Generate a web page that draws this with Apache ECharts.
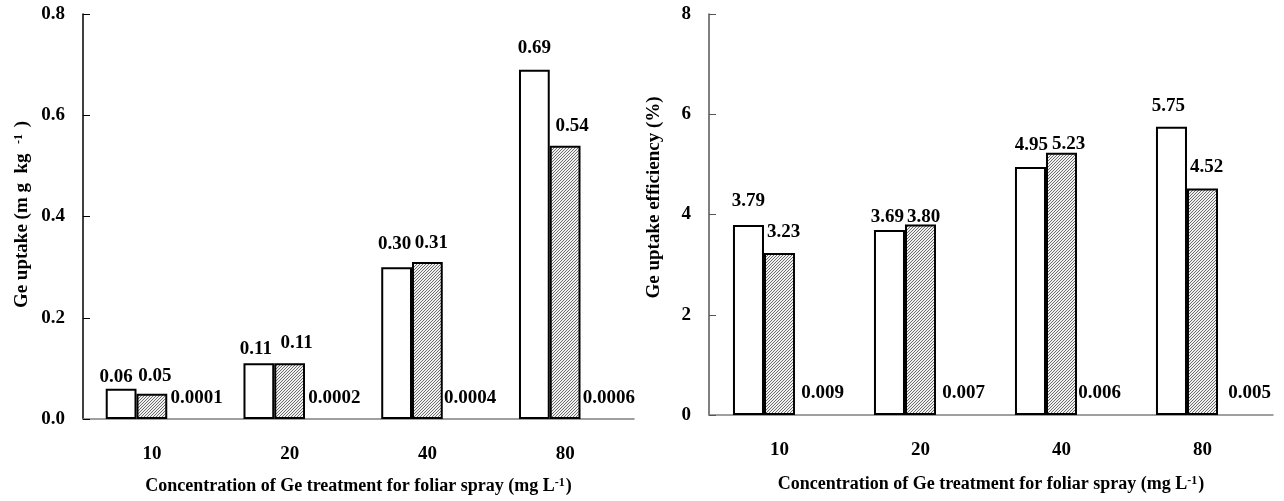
<!DOCTYPE html>
<html>
<head>
<meta charset="utf-8">
<script src="https://cdn.jsdelivr.net/npm/echarts@6/dist/echarts.min.js"></script>
<style>html,body{margin:0;padding:0;background:#fff}#c{width:1284px;height:501px}</style>
</head>
<body>
<div id="c"></div>
<script>
var categories = ['10', '20', '40', '80'];
// Left panel: Ge uptake (mg kg-1)
var uptakeA = [0.06, 0.11, 0.30, 0.69];
var uptakeB = [0.05, 0.11, 0.31, 0.54];
var uptakeC = [0.0001, 0.0002, 0.0004, 0.0006];
// Right panel: Ge uptake efficiency (%)
var effA = [3.79, 3.69, 4.95, 5.75];
var effB = [3.23, 3.80, 5.23, 4.52];
var effC = [0.009, 0.007, 0.006, 0.005];

// label placement tweaks (pixels) – style only
var lblLeftA = {dx: [-5, -3, -2, 0], dist: [2, 5, 14, 12]};
var lblLeftB = {dx: [3, 7, 4, 7], dist: [8, 11, 9, 10]};
var lblLeftC = {dx: [14, 14, 12, 13], dist: [11, 11, 11, 11]};
var lblRightA = {dx: [0, -2, 1, -3], dist: [14, 3, 12, 11]};
var lblRightB = {dx: [4, 3, 7, 4], dist: [12, -2, -1, 12]};
var lblRightC = {dx: [12, 12, 7, 16], dist: [12, 12, 12, 12]};

var FONT = '"Liberation Serif", "Times New Roman", serif';

function hatch() {
  var c = document.createElement('canvas');
  c.width = 3; c.height = 3;
  var g = c.getContext('2d');
  g.fillStyle = '#f0f0f0';
  g.fillRect(0, 0, 3, 3);
  g.fillStyle = '#6e6e6e';
  g.fillRect(2, 0, 1, 1);
  g.fillRect(1, 1, 1, 1);
  g.fillRect(0, 2, 1, 1);
  return c;
}
var hatchImg = hatch();

var chart = echarts.init(document.getElementById('c'), null, {renderer: 'canvas'});

function xAxis(gi, gap) {
  return {
    type: 'category', gridIndex: gi, data: categories,
    axisLine: {lineStyle: {color: '#808080', width: 1.5}},
    axisTick: {inside: true, length: 7, lineStyle: {color: '#333'}},
    axisLabel: {fontFamily: FONT, fontWeight: 'bold', fontSize: 19, color: '#000', margin: 26},
    name: '{a|Concentration of Ge treatment for foliar spray (mg L}{s|-1}{a|)}',
    nameLocation: 'middle', nameGap: gap,
    nameTextStyle: {
      rich: {
        a: {fontFamily: FONT, fontWeight: 'bold', fontSize: 18, color: '#000'},
        s: {fontFamily: FONT, fontWeight: 'bold', fontSize: 12, color: '#000', verticalAlign: 'top', padding: [0, 1, 6, 0]}
      }
    }
  };
}
function yAxis(gi, max, interval, fmt, nameStr, gap, lineColor, pad) {
  return {
    type: 'value', gridIndex: gi, min: 0, max: max, interval: interval,
    splitLine: {show: false},
    axisLine: {show: true, lineStyle: {color: lineColor, width: 1.5}},
    axisTick: {show: true, inside: true, length: 7, lineStyle: {color: lineColor}},
    axisLabel: {fontFamily: FONT, fontWeight: 'bold', fontSize: 19, color: '#000', margin: 18, formatter: fmt},
    name: nameStr, nameLocation: 'middle', nameRotate: 90, nameGap: gap,
    nameTextStyle: {
      padding: pad,
      rich: {
        a: {fontFamily: FONT, fontWeight: 'bold', fontSize: 19, color: '#000'},
        s: {fontFamily: FONT, fontWeight: 'bold', fontSize: 12, color: '#000', verticalAlign: 'top', padding: [0, 2, 6, 0]}
      }
    }
  };
}

function barSeries(gi, values, kind, lbl) {
  var data = values.map(function (v, i) {
    return {value: v, label: {offset: [lbl.dx[i], -lbl.dist[i]]}};
  });
  var s = {
    type: 'bar', xAxisIndex: gi, yAxisIndex: gi, data: data,
    barGap: '0%', barCategoryGap: gi === 0 ? '33%' : '34%',
    label: {show: true, position: 'top', distance: 0,
      fontFamily: FONT, fontWeight: 'bold', fontSize: 19, color: '#000'}
  };
  if (kind === 'white') {
    s.itemStyle = {color: '#fff', borderColor: '#000', borderWidth: 2};
    s.label.formatter = function (p) { return p.value.toFixed(2); };
  } else if (kind === 'hatch') {
    s.itemStyle = {color: {image: hatchImg, repeat: 'repeat'}, borderColor: '#000', borderWidth: 2};
    s.label.formatter = function (p) { return p.value.toFixed(2); };
  } else {
    s.itemStyle = {color: 'rgba(0,0,0,0)', borderWidth: 0};
    s.label.formatter = function (p) { return String(p.value); };
  }
  return s;
}

var option = {
  backgroundColor: '#fff',
  animation: false,
  grid: [
    {left: 83, right: 650, top: 14, bottom: 82},
    {left: 709, right: 11, top: 14, bottom: 86}
  ],
  xAxis: [xAxis(0, 58), xAxis(1, 60)],
  yAxis: [
    yAxis(0, 0.8, 0.2, function (v) { return v.toFixed(1); }, '{a|Ge uptake (m g  kg  }{s|-1}{a| )}', 51, '#000', [0, 0, 0, 4]),
    yAxis(1, 8, 2, function (v) { return String(v); }, '{a|Ge uptake efficiency (%)}', 45, '#555', [0, 0, 0, 34])
  ],
  series: [
    barSeries(0, uptakeA, 'white', lblLeftA),
    barSeries(0, uptakeB, 'hatch', lblLeftB),
    barSeries(0, uptakeC, 'none', lblLeftC),
    barSeries(1, effA, 'white', lblRightA),
    barSeries(1, effB, 'hatch', lblRightB),
    barSeries(1, effC, 'none', lblRightC)
  ]
};
chart.setOption(option);
</script>
</body>
</html>
